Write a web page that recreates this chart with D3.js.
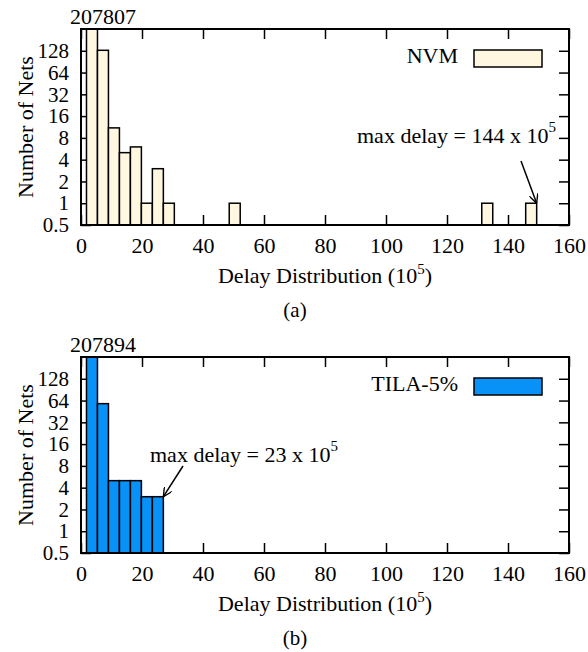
<!DOCTYPE html>
<html>
<head>
<meta charset="utf-8">
<script src="https://cdn.jsdelivr.net/npm/d3@7"></script>
<style>
  body { margin: 0; background: #fff; }
  svg text { font-family: "Liberation Serif", "Times New Roman", serif; fill: #000; }
</style>
</head>
<body>
<svg id="chart" width="588" height="652"></svg>
<script>
// ---------- data ----------
const xTicks = [0, 20, 40, 60, 80, 100, 120, 140, 160];
const yTicks = [0.5, 1, 2, 4, 8, 16, 32, 64, 128];
const binWidth = 3.6;
const nvmBinCenters = [3.6, 7.2, 10.8, 14.4, 18.0, 21.6, 25.2, 28.8, 50.4, 133.2, 147.6];
const nvmCounts     = [207807, 130, 11, 5, 6, 1, 3, 1, 1, 1, 1];
const tilaBinCenters = [3.6, 7.2, 10.8, 14.4, 18.0, 21.6, 25.2];
const tilaCounts     = [207894, 58, 5, 5, 5, 3, 3];
const panels = [
  { name: "NVM", color: "#fff7e0", centers: nvmBinCenters, counts: nvmCounts,
    peakLabel: "207807", maxText: "max delay = 144 x 10", caption: "(a)" },
  { name: "TILA-5%", color: "#0892f7", centers: tilaBinCenters, counts: tilaCounts,
    peakLabel: "207894", maxText: "max delay = 23 x 10", caption: "(b)" }
];

// ---------- layout ----------
const svg = d3.select("#chart");
const left = 81, right = 569, plotH = 196;
const tops = [29, 357];
const FS = 22;

svg.append("defs").append("marker")
  .attr("id", "arrow").attr("viewBox", "0 0 10 10").attr("refX", 10).attr("refY", 5)
  .attr("markerWidth", 9).attr("markerHeight", 9).attr("markerUnits", "userSpaceOnUse")
  .attr("orient", "auto")
  .append("path").attr("d", "M0,0 L10,5 L0,10").attr("fill", "none")
  .attr("stroke", "#000").attr("stroke-width", 1.5);

panels.forEach((p, i) => {
  const top = tops[i], bottom = top + plotH;
  const x = d3.scaleLinear().domain([0, 160]).range([left, right]);
  const y = d3.scaleLog().base(2).domain([0.5, 256]).range([bottom, top]).clamp(true);
  const g = svg.append("g");

  // axes (ticks inward)
  const fmt = d => String(d);
  const ax = g.append("g").attr("transform", `translate(0,${bottom})`)
    .call(d3.axisBottom(x).tickValues(xTicks).tickSize(-10).tickPadding(12).tickFormat(fmt));
  const axT = g.append("g").attr("transform", `translate(0,${top})`)
    .call(d3.axisTop(x).tickValues(xTicks).tickSize(-10).tickFormat(""));
  const ay = g.append("g").attr("transform", `translate(${left},0)`)
    .call(d3.axisLeft(y).tickValues(yTicks).tickSize(-10).tickPadding(12).tickFormat(fmt));
  const ayR = g.append("g").attr("transform", `translate(${right},0)`)
    .call(d3.axisRight(y).tickValues(yTicks).tickSize(-10).tickFormat(""));
  [ax, axT, ay, ayR].forEach(a => {
    a.select(".domain").remove();
    a.selectAll(".tick line").attr("stroke", "#000").attr("stroke-width", 1.5);
    a.selectAll(".tick text").attr("font-size", FS);
  });
  ay.selectAll(".tick text").attr("font-size", 21);

  // bars
  g.append("g").selectAll("rect").data(p.centers.map((c, k) => ({ c, v: p.counts[k] })))
    .join("rect")
    .attr("x", d => x(d.c - binWidth / 2))
    .attr("width", d => x(d.c + binWidth / 2) - x(d.c - binWidth / 2))
    .attr("y", d => y(d.v))
    .attr("height", d => bottom - y(d.v))
    .attr("fill", p.color).attr("stroke", "#000").attr("stroke-width", 1.5);

  // frame
  g.append("rect").attr("x", left).attr("y", top).attr("width", right - left).attr("height", plotH)
    .attr("fill", "none").attr("stroke", "#000").attr("stroke-width", 2);

  // peak label
  g.append("text").attr("x", x(p.centers[0]) + 11).attr("y", top - 5)
    .attr("text-anchor", "middle").attr("font-size", FS).text(p.peakLabel);

  // legend
  g.append("text").attr("x", 458).attr("y", top + 34).attr("text-anchor", "end")
    .attr("font-size", FS).text(p.name);
  g.append("rect").attr("x", 474).attr("y", top + 21).attr("width", 68).attr("height", 17)
    .attr("fill", p.color).attr("stroke", "#000").attr("stroke-width", 1.5);

  // max delay annotation
  const lastC = p.centers[p.centers.length - 1], lastV = p.counts[p.counts.length - 1];
  const tipX = x(lastC + binWidth / 2), tipY = y(lastV);
  let tx, ty, sx, sy;
  if (i === 0) { tx = 357; ty = 143; sx = 521; sy = 161; }
  else { tx = 150; ty = 462; sx = 183; sy = 466; }
  const t = g.append("text").attr("x", tx).attr("y", ty).attr("font-size", FS);
  t.append("tspan").text(p.maxText);
  t.append("tspan").attr("font-size", 15).attr("dy", -11).text("5");
  g.append("line").attr("x1", sx).attr("y1", sy).attr("x2", tipX).attr("y2", tipY)
    .attr("stroke", "#000").attr("stroke-width", 1.5).attr("marker-end", "url(#arrow)");

  // axis titles
  g.append("text").attr("transform", `translate(33,${(top + bottom) / 2}) rotate(-90)`)
    .attr("text-anchor", "middle").attr("font-size", FS).text("Number of Nets");
  const xt = g.append("text").attr("x", 325).attr("y", bottom + 58)
    .attr("text-anchor", "middle").attr("font-size", FS);
  xt.append("tspan").text("Delay Distribution (10");
  xt.append("tspan").attr("font-size", 15).attr("dy", -9).text("5");
  xt.append("tspan").attr("dy", 9).text(")");

  // caption
  g.append("text").attr("x", 295).attr("y", bottom + 92).attr("text-anchor", "middle")
    .attr("font-size", 21).text(p.caption);
});
</script>
</body>
</html>
